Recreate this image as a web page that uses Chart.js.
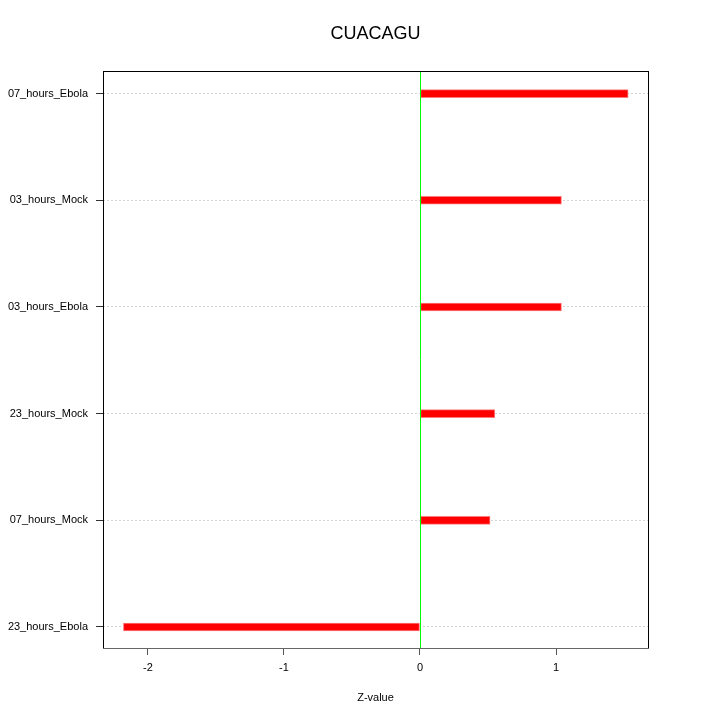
<!DOCTYPE html>
<html>
<head>
<meta charset="utf-8">
<script src="https://cdn.jsdelivr.net/npm/chart.js@4"></script>
<style>
  html, body { margin: 0; padding: 0; background: #fff; }
  #wrap { width: 720px; height: 720px; }
</style>
</head>
<body>
<div id="wrap"><canvas id="myCanvas" width="720" height="720"></canvas></div>
<script>
// categories from bottom to top
var categorie = ["23_hours_Ebola", "07_hours_Mock", "23_hours_Mock", "03_hours_Ebola", "03_hours_Mock", "07_hours_Ebola"];
var zValori = [-2.18, 0.515, 0.55, 1.04, 1.04, 1.53];
var xTicks = [-2, -1, 0, 1];
var titolo = "CUACAGU";

var punti = zValori.map(function (v, i) { return { x: v, y: i }; });

// black box, green zero line and title centred on the plot area
var cornice = {
  id: "cornice",
  afterDatasetsDraw: function (chart) {
    var a = chart.chartArea;
    var c = chart.ctx;
    var x0 = Math.round(chart.scales.x.getPixelForValue(0)) + 0.5;
    c.save();
    c.strokeStyle = "#00ff00";
    c.lineWidth = 1;
    c.beginPath();
    c.moveTo(x0, a.top);
    c.lineTo(x0, a.bottom);
    c.stroke();
    c.restore();
  },
  afterDraw: function (chart) {
    var a = chart.chartArea;
    var c = chart.ctx;
    c.save();
    c.strokeStyle = "#000";
    c.lineWidth = 1;
    c.strokeRect(Math.round(a.left) + 0.5, Math.round(a.top) + 0.5, Math.round(a.right - a.left), Math.round(a.bottom - a.top));
    c.strokeStyle = "#666";
    c.beginPath();
    c.moveTo(a.left, Math.round(a.bottom) + 0.5);
    c.lineTo(a.right + 1, Math.round(a.bottom) + 0.5);
    c.stroke();
    c.fillStyle = "#000";
    c.font = "18px 'Liberation Sans', Arial, sans-serif";
    c.textAlign = "center";
    c.textBaseline = "middle";
    c.fillText(titolo, (a.left + a.right) / 2, 34);
    c.restore();
  }
};

Chart.defaults.font.family = "'Liberation Sans', Arial, sans-serif";
Chart.defaults.color = "#000";

new Chart(document.querySelector("#myCanvas").getContext("2d"), {
  type: "bar",
  data: {
    datasets: [{
      label: "Z-value",
      data: punti,
      backgroundColor: "#ff0000",
      borderColor: "#ff7a7a",
      borderWidth: 1,
      borderSkipped: false,
      barThickness: 8
    }]
  },
  options: {
    indexAxis: "y",
    responsive: false,
    animation: false,
    layout: { padding: { left: 0, right: 72, top: 71, bottom: 0 } },
    plugins: {
      legend: { display: false },
      tooltip: { enabled: false },
      title: { display: false }
    },
    scales: {
      x: {
        type: "linear",
        min: -2.33,
        max: 1.676,
        afterBuildTicks: function (s) { s.ticks = xTicks.map(function (v) { return { value: v }; }); },
        afterFit: function (s) { s.height = 72; },
        border: { display: false },
        grid: {
          drawOnChartArea: false,
          color: "#555",
          tickColor: "#555",
          tickLength: 7
        },
        ticks: { font: { size: 11 }, padding: 6, maxRotation: 0 },
        title: {
          display: true,
          text: "Z-value",
          font: { size: 11 },
          padding: { top: 4, bottom: 15 }
        }
      },
      y: {
        type: "linear",
        min: -0.197,
        max: 5.212,
        offset: false,
        z: 1,
        afterBuildTicks: function (s) { s.ticks = categorie.map(function (c, i) { return { value: i }; }); },
        afterFit: function (s) { s.width = 103; },
        border: { display: false, dash: [2, 2] },
        grid: {
          offset: false,
          color: "#d4d4d4",
          tickColor: "#333",
          tickLength: 7,
          tickBorderDash: []
        },
        ticks: {
          font: { size: 11 },
          padding: 8,
          callback: function (v) { return categorie[v]; }
        }
      }
    }
  },
  plugins: [cornice]
});
</script>
</body>
</html>
